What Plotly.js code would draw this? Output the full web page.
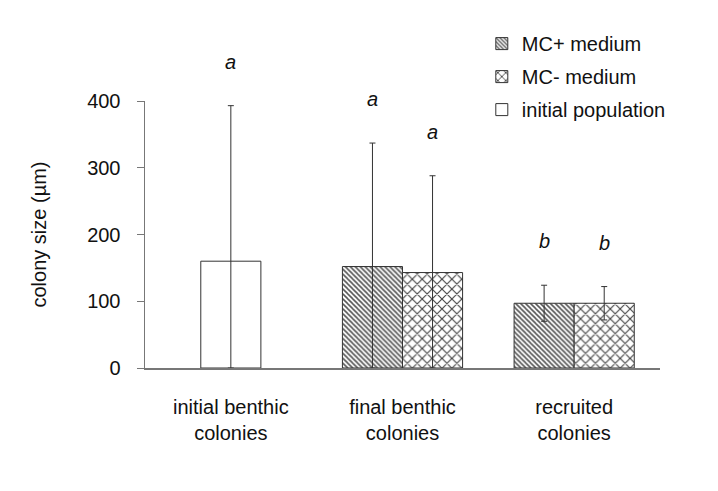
<!DOCTYPE html>
<html><head><meta charset="utf-8">
<script src="https://cdn.plot.ly/plotly-3.0.1.min.js"></script>
<style>html,body{margin:0;padding:0;background:#fff;}#chart{width:718px;height:491px;}</style>
</head><body><div id="chart"></div>
<script>
const categories = ["initial benthic<br>colonies", "final benthic<br>colonies", "recruited<br>colonies"];
const mcPlusCats = ["final benthic<br>colonies", "recruited<br>colonies"];
const mcPlusMean = [152, 97];
const mcPlusSD = [185, 27];
const mcMinusCats = ["final benthic<br>colonies", "recruited<br>colonies"];
const mcMinusMean = [143, 97];
const mcMinusSD = [145, 25];
const initCats = ["initial benthic<br>colonies"];
const initMean = [160];
const initSD = [233];
const letters = {init: ["a"], plus: ["a", "b"], minus: ["a", "b"]};

const lower = (m, s) => m.map((v, i) => Math.min(v, s[i]));
const errStyle = (m, s) => ({type: "data", symmetric: false, array: s, arrayminus: lower(m, s),
  color: "#333", thickness: 1, width: 3});
const barLine = {color: "#333", width: 1};
const FONT = "Liberation Sans, Arial, sans-serif";

const traces = [
  {type: "bar", name: "MC+ medium", legendgroup: "g1", x: mcPlusCats, y: mcPlusMean,
   offset: -0.35, width: 0.35,
   marker: {color: "#fff", line: barLine, pattern: {shape: "\\", fgcolor: "#555", bgcolor: "#fff", size: 3.5, solidity: 0.45}},
   error_y: errStyle(mcPlusMean, mcPlusSD)},
  {type: "bar", name: "MC- medium", legendgroup: "g2", x: mcMinusCats, y: mcMinusMean,
   offset: 0, width: 0.35,
   marker: {color: "#fff", line: barLine, pattern: {shape: "x", fgcolor: "#444", bgcolor: "#fff", size: 7, solidity: 0.3}},
   error_y: errStyle(mcMinusMean, mcMinusSD)},
  {type: "bar", name: "initial population", legendgroup: "g3", x: initCats, y: initMean,
   offset: -0.175, width: 0.35,
   marker: {color: "#fff", line: barLine},
   error_y: errStyle(initMean, initSD)}
];

const ann = [];
const addLetters = (cats, mean, sd, lab, xoff) => cats.forEach((c, i) => {
  ann.push({x: categories.indexOf(c) + xoff, y: mean[i] + sd[i], xref: "x", yref: "y",
    text: lab[i], showarrow: false, yanchor: "middle", yshift: 44,
    font: {family: FONT, size: 20, color: "#111", style: "italic"}});
});
addLetters(initCats, initMean, initSD, letters.init, 0);
addLetters(mcPlusCats, mcPlusMean, mcPlusSD, letters.plus, -0.175);
addLetters(mcMinusCats, mcMinusMean, mcMinusSD, letters.minus, 0.175);

const layout = {
  width: 718, height: 491,
  margin: {l: 145, r: 58, t: 101, b: 123},
  paper_bgcolor: "#fff", plot_bgcolor: "#fff",
  font: {family: FONT, size: 20, color: "#111"},
  barmode: "overlay",
  showlegend: true,
  legend: {x: 0.654, y: 1.288, xref: "paper", yref: "paper", xanchor: "left", yanchor: "top",
    tracegroupgap: 4, font: {size: 20}, bgcolor: "rgba(0,0,0,0)"},
  xaxis: {type: "category", categoryarray: categories, categoryorder: "array", range: [-0.5, 2.5],
    showline: true, linecolor: "#777", linewidth: 1.5, ticks: "", showgrid: false, zeroline: false,
    ticklabelstandoff: 20, tickfont: {size: 20}, automargin: false},
  yaxis: {range: [0, 400], tickvals: [0, 100, 200, 300, 400], showline: true, linecolor: "#777", linewidth: 1.5,
    ticks: "outside", ticklen: 7, tickcolor: "#777", showgrid: false, zeroline: false, tickfont: {size: 20},
    ticklabelstandoff: 12, automargin: false,
    title: {text: "colony size (µm)", font: {size: 20}, standoff: 35}}
  ,annotations: ann
};
Plotly.newPlot("chart", traces, layout, {staticPlot: true});
</script></body></html>
